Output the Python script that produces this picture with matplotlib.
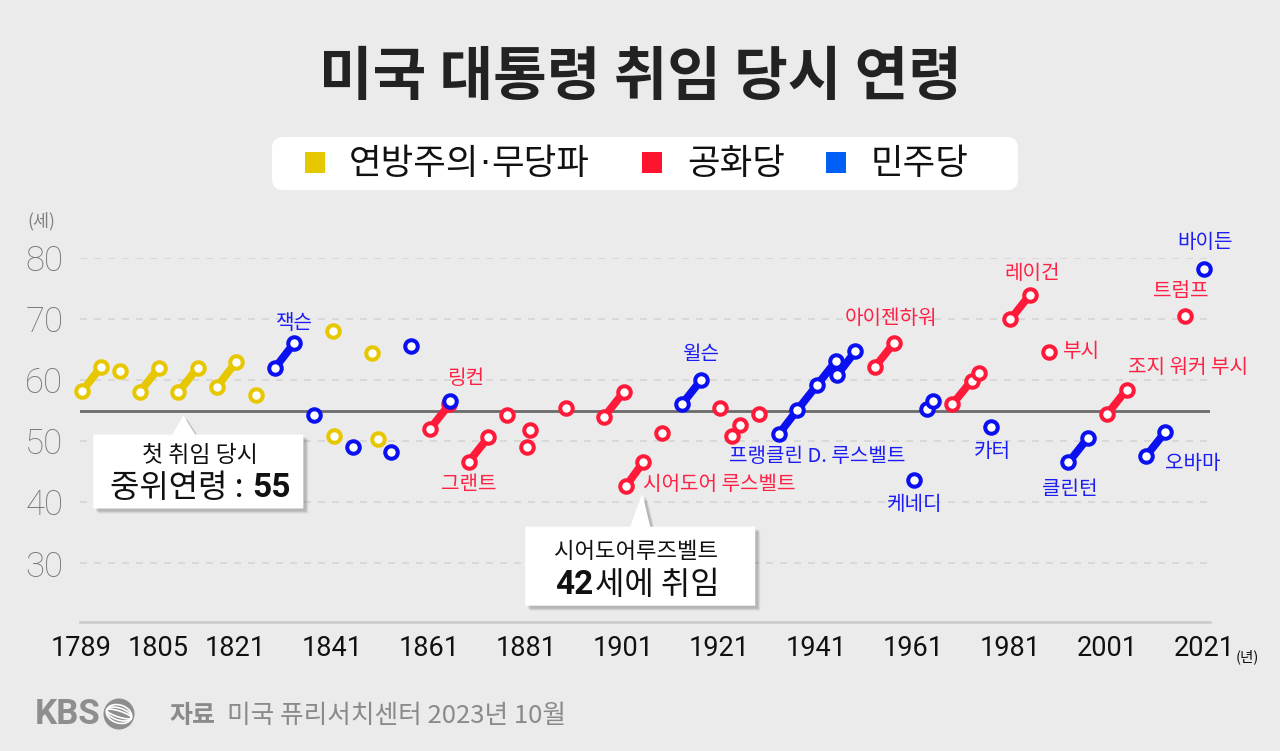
import matplotlib
matplotlib.use("Agg")
import matplotlib.pyplot as plt
from matplotlib.patches import FancyBboxPatch, Rectangle, Polygon, Circle, Ellipse
from matplotlib.transforms import IdentityTransform

W, H = 1280, 751
BG = '#ebebeb'

# inauguration year / age at inauguration, grouped by party
fed_names = ['Washington', 'Washington', 'JAdams', 'Jefferson', 'Jefferson', 'Madison', 'Madison',
             'Monroe', 'Monroe', 'JQAdams', 'WHarrison', 'Tyler', 'Taylor', 'Fillmore']
fed_years = [1789.33, 1793.17, 1797.17, 1801.17, 1805.17, 1809.17, 1813.17,
             1817.17, 1821.17, 1825.17, 1841.17, 1841.27, 1849.17, 1850.52]
fed_ages = [58.2, 62.1, 61.4, 58.0, 62.0, 58.0, 62.0, 58.9, 63.0, 57.6, 68.0, 50.8, 64.4, 50.4]

rep_names = ['Lincoln', 'Lincoln', 'Grant', 'Grant', 'Hayes', 'Garfield', 'Arthur', 'BHarrison',
             'McKinley', 'McKinley', 'TRoosevelt', 'TRoosevelt', 'Taft', 'Harding', 'Coolidge',
             'Coolidge', 'Hoover', 'Eisenhower', 'Eisenhower', 'Nixon', 'Nixon', 'Ford',
             'Reagan', 'Reagan', 'HWBush', 'GWBush', 'GWBush', 'Trump']
rep_years = [1861.17, 1865.17, 1869.17, 1873.17, 1877.17, 1881.17, 1881.72, 1889.17,
             1897.17, 1901.17, 1901.70, 1905.17, 1909.17, 1921.17, 1923.59,
             1925.17, 1929.17, 1953.05, 1957.05, 1969.05, 1973.05, 1974.60,
             1981.05, 1985.05, 1989.05, 2001.05, 2005.05, 2017.05]
rep_ages = [52.0, 56.0, 46.6, 50.6, 54.3, 49.1, 51.8, 55.4,
            54.0, 58.0, 42.7, 46.5, 51.4, 55.4, 50.9,
            52.6, 54.5, 62.1, 66.1, 56.0, 59.9, 61.1,
            69.9, 73.9, 64.6, 54.4, 58.4, 70.4]

dem_names = ['Jackson', 'Jackson', 'VanBuren', 'Polk', 'Pierce', 'Buchanan', 'AJohnson',
             'Wilson', 'Wilson', 'FDR', 'FDR', 'FDR', 'FDR', 'Truman', 'Truman', 'Kennedy',
             'LBJ', 'LBJ', 'Carter', 'Clinton', 'Clinton', 'Obama', 'Obama', 'Biden']
dem_years = [1829.17, 1833.17, 1837.17, 1845.17, 1853.17, 1857.17, 1865.29,
             1913.17, 1917.17, 1933.17, 1937.05, 1941.05, 1945.05, 1945.28, 1949.05, 1961.05,
             1963.89, 1965.05, 1977.05, 1993.05, 1997.05, 2009.05, 2013.05, 2021.05]
dem_ages = [62.0, 66.1, 54.2, 49.1, 48.2, 65.6, 56.6,
            56.0, 60.0, 51.1, 55.1, 59.1, 63.1, 60.8, 64.7, 43.6,
            55.3, 56.5, 52.3, 46.5, 50.5, 47.5, 51.5, 78.1]

median_age = 55
year_ticks = [1789, 1805, 1821, 1841, 1861, 1881, 1901, 1921, 1941, 1961, 1981, 2001, 2021]
age_ticks = [30, 40, 50, 60, 70, 80]

# name labels: (party, president, term index, text)
labels = [
    ('dem', 'Jackson', 1, '잭슨'),
    ('rep', 'Lincoln', 1, '링컨'),
    ('rep', 'Grant', 0, '그랜트'),
    ('rep', 'TRoosevelt', 0, '시어도어 루스벨트'),
    ('dem', 'Wilson', 1, '윌슨'),
    ('dem', 'FDR', 0, '프랭클린 D. 루스벨트'),
    ('rep', 'Eisenhower', 1, '아이젠하워'),
    ('dem', 'Kennedy', 0, '케네디'),
    ('dem', 'Carter', 0, '카터'),
    ('rep', 'Reagan', 1, '레이건'),
    ('rep', 'HWBush', 0, '부시'),
    ('rep', 'GWBush', 1, '조지 워커 부시'),
    ('dem', 'Clinton', 0, '클린턴'),
    ('dem', 'Obama', 0, '오바마'),
    ('rep', 'Trump', 0, '트럼프'),
    ('dem', 'Biden', 0, '바이든'),
]
# label offsets in pixels (dx right, dy down) and alignment
label_pos = {
    '잭슨': (0, -19, 'center'), '링컨': (16, -26, 'center'), '그랜트': (0, 23, 'center'),
    '시어도어 루스벨트': (17, -1, 'left'), '윌슨': (0, -25, 'center'),
    '프랭클린 D. 루스벨트': (39, 22, 'center'), '아이젠하워': (-3, -24, 'center'),
    '케네디': (1, 24, 'center'), '카터': (1, 24, 'center'), '레이건': (2, -21, 'center'),
    '부시': (13, 0, 'left'), '조지 워커 부시': (61, -22, 'center'),
    '클린턴': (1, 27, 'center'), '오바마': (19, 7, 'left'), '트럼프': (-4, -25, 'center'),
    '바이든': (1, -27, 'center'),
}

colors = {'fed': '#e6c700', 'rep': '#ff1a3a', 'dem': '#0a10f0'}
text_colors = {'rep': '#ff2244', 'dem': '#1c1cf5'}
legend_colors = ['#e5c800', '#ff1430', '#0060f5']

plt.rcParams['font.family'] = ['Noto Sans CJK KR', 'DejaVu Sans']

fig = plt.figure(figsize=(W / 100, H / 100), dpi=100, facecolor=BG)
ax = fig.add_axes([80 / W, (H - 622) / H, 1130 / W, (622 - 257.7) / H])
ax.set_facecolor('none')
ax.set_xlim(1788.86, 2022.29)
ax.set_ylim(20.4, 80)
for s in ['top', 'right', 'left']:
    ax.spines[s].set_visible(False)
ax.spines['bottom'].set_color('#c9c9c9')
ax.spines['bottom'].set_linewidth(1.8)

ax.set_yticks(age_ticks)
ax.set_yticklabels([str(a) for a in age_ticks], family='Roboto', fontweight='light')
ax.set_xticks(year_ticks)
ax.set_xticklabels([str(y) for y in year_ticks], family='Roboto')
ax.tick_params(axis='y', length=0, pad=12, labelsize=25, labelcolor='#777777')
ax.tick_params(axis='x', length=0, pad=9, labelsize=19.5, labelcolor='#111111')
ax.yaxis.grid(True, color='#d8d8d8', linewidth=1.4, linestyle=(0, (3.6, 3.6)))
ax.set_axisbelow(True)
ax.axhline(median_age, color='#6b6b6b', lw=2.0, zorder=1.5)

series = {
    'fed': (fed_names, fed_years, fed_ages),
    'rep': (rep_names, rep_years, rep_ages),
    'dem': (dem_names, dem_years, dem_ages),
}

# connect consecutive terms of the same president
for party, (names, yrs, ages) in series.items():
    i = 0
    while i < len(names):
        j = i
        while j + 1 < len(names) and names[j + 1] == names[i]:
            j += 1
        if j > i:
            ax.plot(yrs[i:j + 1], ages[i:j + 1], color=colors[party], lw=5.6,
                    solid_capstyle='round', zorder=3, clip_on=False)
        i = j + 1

for party, (names, yrs, ages) in series.items():
    ax.plot(yrs, ages, 'o', ms=9.0, mfc='white', mec=colors[party], mew=2.9,
            zorder=4, clip_on=False)

for party, name, k, txt in labels:
    names, yrs, ages = series[party]
    idx = [i for i, n in enumerate(names) if n == name][k]
    dx, dy, ha = label_pos[txt]
    ax.annotate(txt, (yrs[idx], ages[idx]), xytext=(dx * 0.72, -dy * 0.72),
                textcoords='offset points', ha=ha, va='center', fontsize=14.5,
                color=text_colors[party], zorder=5)


def top(y):
    return H - y


# title
fig.text(0.5, 1 - 78 / H, '미국 대통령 취임 당시 연령', ha='center', va='center',
         fontsize=42, fontweight='bold', color='#222222')

# legend box
fig.add_artist(FancyBboxPatch((272, top(190)), 746, 53,
                              boxstyle='round,pad=0,rounding_size=11',
                              fc='white', ec='none', transform=IdentityTransform()))
fig.canvas.draw()
rend = fig.canvas.get_renderer()

sq_x = [305, 642, 826]
tx_x = [349, 687, 871]
legend_parts = [['연방주의', '·', '무당파'], ['공화당'], ['민주당']]
for parts, c, sx, tx in zip(legend_parts, legend_colors, sq_x, tx_x):
    fig.add_artist(Rectangle((sx, top(173)), 20, 21, fc=c, ec='none',
                             transform=IdentityTransform()))
    x = tx
    for p in parts:
        fam = ['DejaVu Sans'] if p == '·' else ['Noto Sans CJK KR']
        t = fig.text(x / W, 1 - 164 / H, p, ha='left', va='center', fontsize=25.5,
                     color='#111111', family=fam)
        x = t.get_window_extent(rend).x1 + (1 if p == '·' else 0)

fig.text(27 / W, 1 - 221 / H, '(세)', ha='left', va='center', fontsize=12.5, color='#808080')
fig.text(1236 / W, 1 - 657 / H, '(년)', ha='left', va='center', fontsize=10.5, color='#111111')


def callout(apex, left, right, ytop, ybot, b0, b1):
    pts = [(left, ytop), (b0, ytop), apex, (b1, ytop), (right, ytop), (right, ybot), (left, ybot)]
    for off, a in [(5, 0.06), (4, 0.08), (3, 0.1)]:
        fig.add_artist(Polygon([(x + off, top(y + off)) for x, y in pts], closed=True,
                               fc='black', ec='none', alpha=a, transform=IdentityTransform()))
    fig.add_artist(Polygon([(x, top(y)) for x, y in pts], closed=True, fc='white',
                           ec='none', transform=IdentityTransform()))


# callout 1: median age
mx, my = ax.transData.transform((1810.2, median_age))
ax1, ay1 = mx, top(my) + 5
callout((ax1, ay1), ax1 - 90, ax1 + 120, ay1 + 19, ay1 + 93, ax1 - 11, ax1 + 12)
fig.text(200 / W, 1 - 455 / H, '첫 취임 당시', ha='center', va='center', fontsize=16.5, color='#111111')
fig.text(244 / W, 1 - 488 / H, '중위연령 :', ha='right', va='center', fontsize=23, color='#111111')
fig.text(252 / W, 1 - 488 / H, '55', ha='left', va='center', fontsize=24, fontweight='bold',
         color='#111111', family='Roboto')

# callout 2: youngest
i_tr = rep_names.index('TRoosevelt')
tx_, ty_ = ax.transData.transform((rep_years[i_tr], rep_ages[i_tr]))
ax2, ay2 = tx_ + 16, top(ty_) + 8
callout((ax2, ay2), ax2 - 117, ax2 + 113, ay2 + 33, ay2 + 112, ax2 - 12, ax2 + 8)
fig.text(636 / W, 1 - 551 / H, '시어도어루즈벨트', ha='center', va='center', fontsize=16, color='#111111')
fig.text(593 / W, 1 - 585 / H, '42', ha='right', va='center', fontsize=24, fontweight='bold',
         color='#111111', family='Roboto')
fig.text(595 / W, 1 - 585 / H, '세에 취임', ha='left', va='center', fontsize=23, color='#111111')

# footer
fig.text(35 / W, 1 - 715 / H, 'KBS', ha='left', va='center', fontsize=25, fontweight='bold',
         color='#8e8e8e', family='Roboto')
fig.add_artist(Circle((119, top(714)), 15.5, fc='#8e8e8e', ec='none', transform=IdentityTransform()))
for h_, a_ in [(6, -18), (12, -18), (18, -18)]:
    fig.add_artist(Ellipse((119, top(714)), 26, h_, angle=a_, fill=False, ec='white', lw=1.2,
                           transform=IdentityTransform()))
fig.text(170 / W, 1 - 716 / H, '자료', ha='left', va='center', fontsize=18, fontweight='bold',
         color='#8a8a8a')
fig.text(227 / W, 1 - 716 / H, '미국 퓨리서치센터 2023년 10월', ha='left', va='center',
         fontsize=18.5, color='#8a8a8a')

fig.savefig('out.png', dpi=100, facecolor=BG)
